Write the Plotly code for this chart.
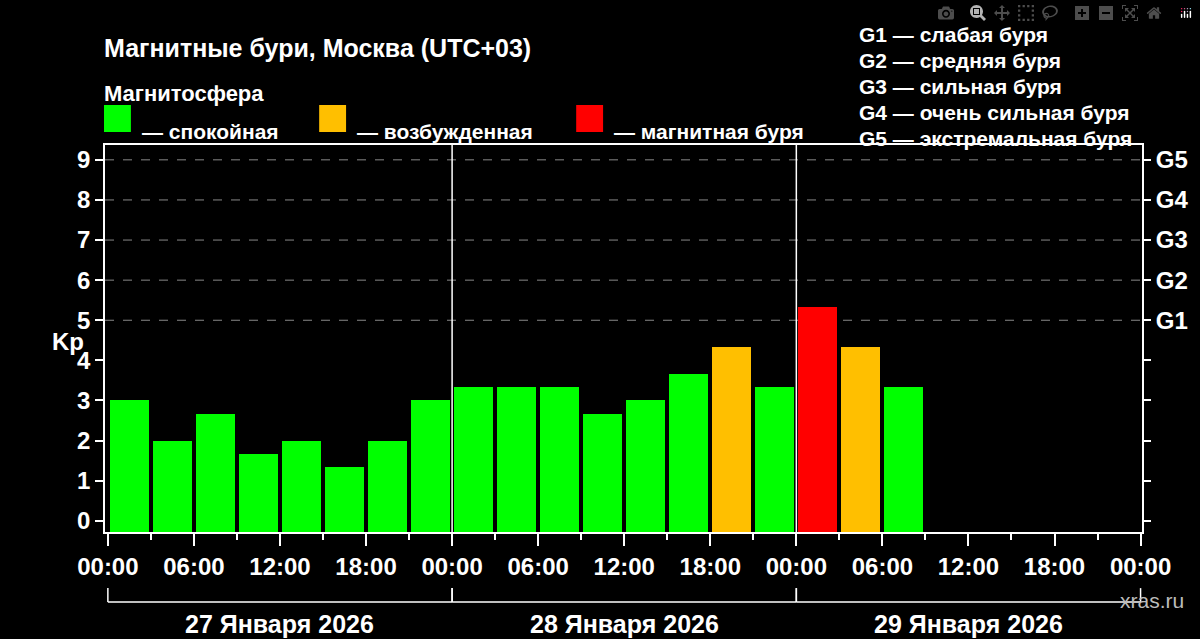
import plotly.graph_objects as go

hours = [1.5 + 3*i for i in range(24)]
kp = [3, 2, 2.67, 1.67, 2, 1.33, 2, 3,
      3.33, 3.33, 3.33, 2.67, 3, 3.67, 4.33, 3.33,
      5.33, 4.33, 3.33]
days = ["27 Января 2026", "28 Января 2026", "29 Января 2026"]
tick_hours = list(range(0, 73, 6))
tick_text = ["00:00", "06:00", "12:00", "18:00"] * 3 + ["00:00"]
g_levels = [5, 6, 7, 8, 9]
g_labels = ["G1", "G2", "G3", "G4", "G5"]
g_legend = ["G1 — слабая буря", "G2 — средняя буря", "G3 — сильная буря",
            "G4 — очень сильная буря", "G5 — экстремальная буря"]
legend_items = [("— спокойная", "#00ff00"), ("— возбужденная", "#ffbf00"), ("— магнитная буря", "#ff0000")]

def color(v):
    if v >= 5: return "#ff0000"
    if v >= 4: return "#ffbf00"
    return "#00ff00"

YMIN, YMAX = -0.28, 9.37
FONT = "Liberation Sans"
fig = go.Figure()
fig.add_trace(go.Bar(x=hours[:len(kp)], y=[v - YMIN for v in kp], base=YMIN, width=2.72,
                     marker=dict(color=[color(v) for v in kp], line=dict(width=0)), showlegend=False))
fig.add_trace(go.Scatter(x=[0], y=[0], yaxis="y2", mode="markers", marker=dict(opacity=0), showlegend=False))

def B(size, color="white"):
    return dict(size=size, color=color, family=FONT, weight="bold")

shapes = []
for d in (24, 48):
    shapes.append(dict(type="line", xref="x", yref="paper", x0=d, x1=d, y0=0, y1=1, line=dict(color="white", width=1.5)))
for lv in g_levels:
    shapes.append(dict(type="line", xref="paper", yref="y", x0=0, x1=1, y0=lv, y1=lv, line=dict(color="#888", width=1, dash="dash"), layer="below"))
ann = []
for i, dname in enumerate(days):
    a, b = 24*i, 24*(i+1)
    shapes.append(dict(type="line", xref="x", yref="paper", x0=a, x1=b, y0=-0.181, y1=-0.181, line=dict(color="white", width=1.5)))
    for xx in (a, b):
        shapes.append(dict(type="line", xref="x", yref="paper", x0=xx, x1=xx, y0=-0.181, y1=-0.145, line=dict(color="white", width=1.5)))
    ann.append(dict(x=(a+b)/2, xref="x", y=-0.197, yref="paper", text=dname, showarrow=False, yanchor="top",
                    font=B(25)))

def pxx(px): return (px - 105) / (1146 - 105)
def pxy(py): return (532 - py) / (532 - 145)
ann.append(dict(x=pxx(102), y=pxy(32), xref="paper", yref="paper", xanchor="left", text="Магнитные бури, Москва (UTC+03)",
                showarrow=False, font=B(25)))
ann.append(dict(x=pxx(102), y=pxy(79), xref="paper", yref="paper", xanchor="left", text="Магнитосфера",
                showarrow=False, font=B(22)))
lx = [104, 320, 578]
for (t, c), x0 in zip(legend_items, lx):
    shapes.append(dict(type="rect", xref="paper", yref="paper", x0=pxx(x0), x1=pxx(x0+27), y0=pxy(132), y1=pxy(105),
                       fillcolor=c, line=dict(width=0)))
    ann.append(dict(x=pxx(x0+36), y=pxy(118), xref="paper", yref="paper", xanchor="left", text=t,
                    showarrow=False, font=B(21)))
for i, t in enumerate(g_legend):
    ann.append(dict(x=pxx(860), y=pxy(21 + 26*i), xref="paper", yref="paper", xanchor="left", text=t,
                    showarrow=False, font=B(21)))
ann.append(dict(x=pxx(50), y=pxy(341), xref="paper", yref="paper", text="Kp",
                showarrow=False, font=B(24)))
ann.append(dict(x=pxx(1190), y=pxy(614), xref="paper", yref="paper", xanchor="right", text="xras.ru",
                showarrow=False, font=dict(size=21, color="#bbbbbb", family=FONT)))

tickfont = B(24)
fig.update_layout(
    width=1200, height=639, paper_bgcolor="black", plot_bgcolor="black",
    margin=dict(l=105, r=54, t=145, b=107), bargap=0,
    shapes=shapes, annotations=ann,
    xaxis=dict(range=[-0.2, 72.1], tickmode="array", tickvals=tick_hours, ticktext=tick_text,
               ticks="outside", ticklen=12, tickwidth=1.5, tickcolor="white", tickfont=tickfont,
               minor=dict(tickmode="linear", tick0=0, dtick=3, ticks="outside", ticklen=6, tickcolor="white", tickwidth=1.5),
               showgrid=False, zeroline=False, showline=True, linecolor="white", linewidth=1.5, mirror=True),
    yaxis=dict(range=[YMIN, YMAX], tickvals=list(range(10)), ticks="outside", ticklen=8, tickwidth=1.5,
               tickcolor="white", tickfont=tickfont, showgrid=False, zeroline=False,
               showline=True, linecolor="white", linewidth=1.5, mirror=True),
    yaxis2=dict(range=[YMIN, YMAX], overlaying="y", side="right", tickvals=list(range(10)),
                ticktext=[""]*5 + g_labels, ticks="outside", ticklen=8, tickwidth=1.5, tickcolor="white",
                tickfont=tickfont, showgrid=False, zeroline=False),
)
fig.write_html("out.html")
with open("out.html", encoding="utf-8") as f:
    html = f.read()
html = html.replace("<head>", "<head><style>html,body{margin:0;padding:0;overflow:hidden;background:black}</style>", 1)
with open("out.html", "w", encoding="utf-8") as f:
    f.write(html)
